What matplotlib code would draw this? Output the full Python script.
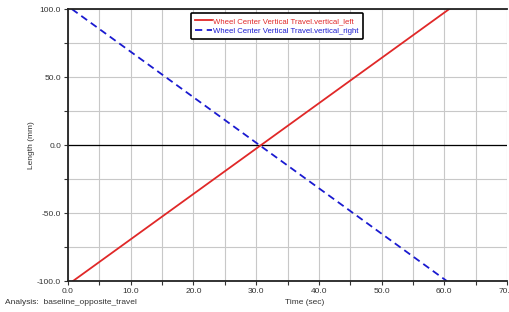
import numpy as np
import matplotlib.pyplot as plt
from matplotlib.ticker import MultipleLocator

plt.rcParams['font.family'] = ['Liberation Sans', 'DejaVu Sans']

# Data
time_left = [0.8, 60.8]
travel_left = [-100.0, 100.0]
time_right = [0.6, 60.4]
travel_right = [100.0, -100.0]
series_labels = ["Wheel Center Vertical Travel.vertical_left",
                 "Wheel Center Vertical Travel.vertical_right"]

fig = plt.figure(figsize=(5.09, 3.12), dpi=100)
ax = fig.add_axes([68 / 509, 1 - 281 / 312, 439 / 509, 272 / 312])

ax.plot(time_left, travel_left, color="#e02828", linewidth=1.3, label=series_labels[0])
ax.plot(time_right, travel_right, color="#1a1ad0", linewidth=1.3, linestyle=(0, (4, 2.5)),
        label=series_labels[1])

ax.axhline(0, color="black", linewidth=0.9, zorder=1)

ax.set_xlim(0, 70)
ax.set_ylim(-100, 100)
ax.xaxis.set_major_locator(MultipleLocator(10))
ax.xaxis.set_minor_locator(MultipleLocator(5))
ax.yaxis.set_major_locator(MultipleLocator(50))
ax.yaxis.set_minor_locator(MultipleLocator(25))
ax.xaxis.set_major_formatter(lambda v, p: f"{v:.1f}")
ax.yaxis.set_major_formatter(lambda v, p: f"{v:.1f}")

ax.grid(True, which="both", color="#c8c8c8", linewidth=0.8)
ax.set_axisbelow(True)
ax.tick_params(which="both", direction="out", length=3, width=0.8, labelsize=6,
               colors="#333333", pad=2)

for side in ["left", "top", "bottom"]:
    ax.spines[side].set_linewidth(1.3)
    ax.spines[side].set_color("#222222")
ax.spines["right"].set_visible(False)

ax.set_ylabel("Length (mm)", fontsize=6, color="#333333")
ax.yaxis.set_label_coords(-33 / 439, 0.5)
fig.text(305 / 509, 1 - 303 / 312, "Time (sec)", fontsize=6, color="#333333",
         ha="center", va="center")
fig.text(5 / 509, 1 - 303 / 312, "Analysis:  baseline_opposite_travel", fontsize=6,
         color="#333333", ha="left", va="center")

leg = ax.legend(loc="upper center", bbox_to_anchor=(0.476, 0.995), fontsize=5.6,
                frameon=True, fancybox=True, handlelength=2.2, handletextpad=0.1,
                borderpad=0.6, labelspacing=0.3, borderaxespad=0.3)
leg.get_frame().set_edgecolor("black")
leg.get_frame().set_linewidth(1.2)
leg.get_frame().set_alpha(1)
for txt, col in zip(leg.get_texts(), ["#e02828", "#1a1ad0"]):
    txt.set_color(col)

fig.savefig("out.png", dpi=100)
